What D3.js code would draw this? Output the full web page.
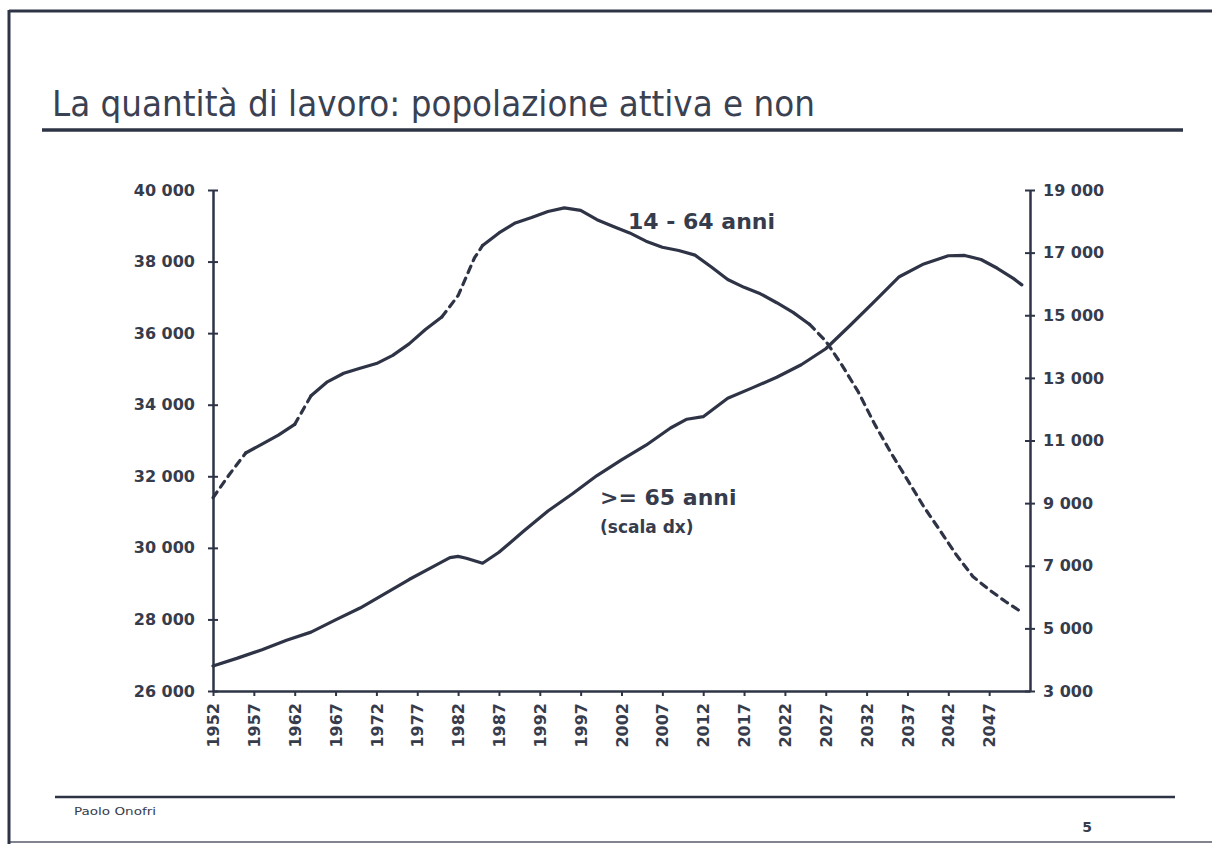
<!DOCTYPE html>
<html>
<head>
<meta charset="utf-8">
<script src="https://cdn.jsdelivr.net/npm/d3@7"></script>
<style>
  html, body { margin: 0; padding: 0; background: #fff; }
  svg { display: block; }
  text { font-family: "DejaVu Sans", Verdana, sans-serif; fill: #363c4c; }
</style>
</head>
<body>
<svg id="chart" width="1212" height="844"></svg>
<script>
// ---- Data (thousands of persons) ----
const titleText = "La quantità di lavoro: popolazione attiva e non";
const xTickYears = [1952,1957,1962,1967,1972,1977,1982,1987,1992,1997,2002,2007,2012,2017,2022,2027,2032,2037,2042,2047];
const leftTicks = [26000,28000,30000,32000,34000,36000,38000,40000];
const rightTicks = [3000,5000,7000,9000,11000,13000,15000,17000,19000];

// 14-64 anni (left scale)
const workYears = [1952,1954,1956,1958,1960,1962,1964,1966,1968,1970,1972,1974,1976,1978,1980,1982,1984,1985,1987,1989,1991,1993,1995,1997,1999,2001,2003,2005,2007,2009,2011,2013,2015,2017,2019,2021,2023,2025,2027,2029,2031,2033,2035,2037,2039,2041,2043,2045,2047,2049,2051];
const workValues = [31400,32050,32650,32900,33150,33450,34250,34640,34880,35020,35150,35380,35700,36100,36450,37050,38100,38450,38800,39080,39230,39400,39500,39430,39170,38980,38800,38570,38400,38310,38180,37850,37500,37280,37100,36850,36580,36250,35780,35100,34350,33450,32650,31900,31150,30480,29800,29200,28830,28500,28200];
// segments of the 14-64 line drawn dashed / solid: [fromYear, toYear, dashed]
const workSegments = [[1952,1956,true],[1956,1962,false],[1962,1964,true],[1964,1980,false],[1980,1985,true],[1985,2025,false],[2025,2051,true]];

// >= 65 anni (right scale)
const oldYears = [1952,1955,1958,1961,1964,1967,1970,1973,1976,1979,1981,1982,1983,1985,1987,1990,1993,1996,1999,2002,2005,2008,2010,2012,2015,2018,2021,2024,2027,2030,2033,2036,2039,2042,2044,2046,2048,2050,2051];
const oldValues = [3800,4050,4320,4620,4880,5270,5650,6100,6560,6980,7260,7300,7240,7080,7430,8100,8750,9300,9880,10380,10850,11400,11680,11760,12350,12680,13020,13420,13930,14680,15450,16230,16640,16900,16910,16780,16500,16170,15970];

const footerText = "Paolo Onofri";
const pageNumber = "5";

// ---- Drawing ----
const ink = "#2e3446";
const svg = d3.select("#chart");

// page frame (scanned slide)
svg.append("line").attr("x1",9).attr("x2",9).attr("y1",10).attr("y2",844).attr("stroke",ink).attr("stroke-width",3);
svg.append("line").attr("x1",9).attr("x2",1212).attr("y1",11).attr("y2",11).attr("stroke",ink).attr("stroke-width",3);
svg.append("line").attr("x1",9).attr("x2",1212).attr("y1",842).attr("y2",842).attr("stroke",ink).attr("stroke-width",2).attr("opacity",0.6);

// title
svg.append("text").attr("x",52).attr("y",116)
  .attr("font-size",36).attr("textLength",763).attr("lengthAdjust","spacingAndGlyphs")
  .style("fill","#3a4152").text(titleText);
svg.append("line").attr("x1",42).attr("x2",1183).attr("y1",130).attr("y2",130).attr("stroke",ink).attr("stroke-width",3.5);

// footer
svg.append("line").attr("x1",55).attr("x2",1175).attr("y1",797).attr("y2",797).attr("stroke",ink).attr("stroke-width",2.5);
svg.append("text").attr("x",74).attr("y",815).attr("font-size",11).attr("textLength",82).attr("lengthAdjust","spacingAndGlyphs").text(footerText);
svg.append("text").attr("x",1087).attr("y",832).attr("font-size",14).attr("font-weight","bold").attr("text-anchor","middle").text(pageNumber);

// scales
const x = d3.scaleLinear().domain([1952,2052]).range([213,1030]);
const yL = d3.scaleLinear().domain([26000,40000]).range([691,190]);
const yR = d3.scaleLinear().domain([3000,19000]).range([691,190]);

const fmt = v => d3.format(",")(v).replace(/,/g," ");

// left axis
const gL = svg.append("g").attr("transform","translate(213,0)");
gL.call(d3.axisLeft(yL).tickValues(leftTicks).tickFormat(fmt).tickSize(0).tickPadding(18));
gL.select(".domain").attr("stroke",ink).attr("stroke-width",2.5);
gL.selectAll(".tick text").attr("font-size",16).attr("font-weight","bold").style("font-family","DejaVu Sans").style("fill","#363c4c");
gL.selectAll(".tick").append("line").attr("x1",-5).attr("x2",5).attr("stroke",ink).attr("stroke-width",2);

// right axis
const gR = svg.append("g").attr("transform","translate(1030,0)");
gR.call(d3.axisRight(yR).tickValues(rightTicks).tickFormat(fmt).tickSize(0).tickPadding(13));
gR.select(".domain").attr("stroke",ink).attr("stroke-width",2.5);
gR.selectAll(".tick text").attr("font-size",16).attr("font-weight","bold").style("font-family","DejaVu Sans").style("fill","#363c4c");
gR.selectAll(".tick").append("line").attr("x1",-5).attr("x2",5).attr("stroke",ink).attr("stroke-width",2);

// bottom axis
const gB = svg.append("g").attr("transform","translate(0,691)");
gB.call(d3.axisBottom(x).tickValues(xTickYears).tickFormat(d3.format("d")).tickSize(5).tickSizeOuter(0));
gB.select(".domain").attr("stroke",ink).attr("stroke-width",2.5);
gB.selectAll(".tick line").attr("stroke",ink).attr("stroke-width",2);
gB.selectAll(".tick text")
  .attr("font-size",16).attr("font-weight","bold").style("font-family","DejaVu Sans").style("fill","#363c4c")
  .attr("transform","rotate(-90)").attr("text-anchor","end").attr("x",-12).attr("y",0).attr("dy","0.35em");

// 14-64 line, split into dashed/solid pieces
const workPts = workYears.map((yr,i)=>({yr, v: workValues[i]}));
const lineL = d3.line().x(d=>x(d.yr)).y(d=>yL(d.v));
workSegments.forEach(([a,b,dashed])=>{
  const pts = workPts.filter(d=>d.yr>=a && d.yr<=b);
  svg.append("path").datum(pts).attr("d",lineL)
    .attr("fill","none").attr("stroke",ink).attr("stroke-width",3.2)
    .attr("stroke-linejoin","round").attr("stroke-linecap","round")
    .attr("stroke-dasharray", dashed ? "7,6" : null);
});

// >=65 line
const oldPts = oldYears.map((yr,i)=>({yr, v: oldValues[i]}));
svg.append("path").datum(oldPts)
  .attr("d", d3.line().x(d=>x(d.yr)).y(d=>yR(d.v)))
  .attr("fill","none").attr("stroke",ink).attr("stroke-width",3.2)
  .attr("stroke-linejoin","round").attr("stroke-linecap","round");

// series labels
svg.append("text").attr("x",628).attr("y",229).attr("font-size",22).attr("font-weight","bold").text("14 - 64 anni");
svg.append("text").attr("x",600).attr("y",505).attr("font-size",22).attr("font-weight","bold").text(">= 65 anni");
svg.append("text").attr("x",600).attr("y",533).attr("font-size",17).attr("font-weight","bold").text("(scala dx)");
</script>
</body>
</html>
